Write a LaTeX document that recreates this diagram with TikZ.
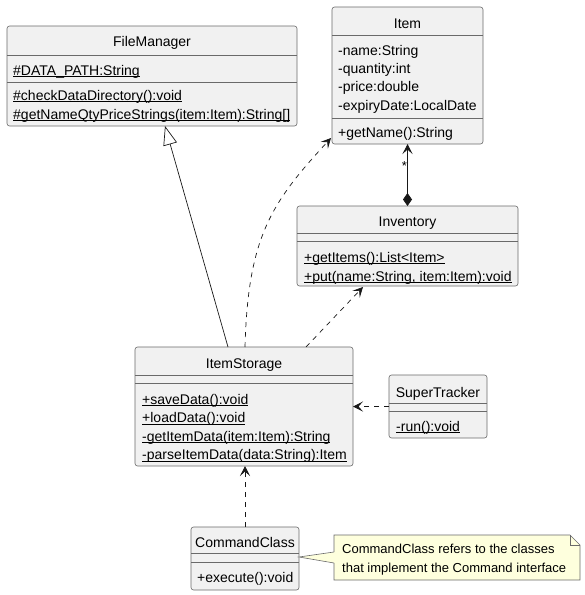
\documentclass[tikz,border=0pt]{standalone}
\usepackage{fontspec}
\setmainfont{Liberation Sans}
\usetikzlibrary{arrows.meta}
\definecolor{classbg}{HTML}{F1F1F1}
\definecolor{boxclr}{HTML}{6A6A6A}
\definecolor{lineclr}{HTML}{181818}
\definecolor{notebg}{HTML}{FEFFDD}
\tikzset{
  classbox/.style={draw=boxclr, fill=classbg, line width=0.6pt, rounded corners=2.5pt,
    inner sep=0pt, outer sep=0pt},
  divider/.style={draw=boxclr, line width=0.6pt},
  title/.style={font=\fontsize{14}{16}\selectfont, inner sep=0pt, anchor=base},
  member/.style={font=\fontsize{14}{16}\selectfont, inner sep=0pt, anchor=base west},
  notetext/.style={font=\fontsize{13}{15}\selectfont, inner sep=0pt, anchor=base west},
  deptip/.style={-{Stealth[length=10pt,width=10pt,inset=4.5pt]}},
  dep/.style={draw=lineclr, line width=0.7pt, dash pattern=on 5pt off 5pt, deptip},
  inherit/.style={draw=lineclr, line width=0.7pt, -{Triangle[open,length=19pt,width=14pt]}},
  compose/.style={draw=lineclr, line width=0.7pt,
    {Stealth[length=10pt,width=10pt,inset=4.5pt]}-{Diamond[length=13pt,width=9pt]}},
}
% static members: underline drawn just under the baseline
\newcommand{\ul}[1]{\setbox0\hbox{#1}\rlap{\rule[-2pt]{\wd0}{0.7pt}}\box0}
\begin{document}
\begin{tikzpicture}[x=1pt, y=-1pt]
  \useasboundingbox (0,0) rectangle (585,595);

  % ---------- FileManager ----------
  \node[classbox, minimum width=290pt, minimum height=100pt] (fm) at (152,76) {};
  \draw[divider] (7,55) -- (297,55);
  \draw[divider] (7,82) -- (297,82);
  \node[title] (fmT) at (152,46) {FileManager};
  \node[member] (fmA) at (13,75) {\ul{\#DATA\_PATH:String}};
  \node[member] (fmM1) at (13,100) {\ul{\#checkDataDirectory():void}};
  \node[member] (fmM2) at (13,119) {\ul{\#getNameQtyPriceStrings(item:Item):String[]}};

  % ---------- Item ----------
  \node[classbox, minimum width=151pt, minimum height=137pt] (item) at (407.5,75.5) {};
  \draw[divider] (332,35) -- (483,35);
  \draw[divider] (332,118) -- (483,118);
  \node[title] (itT) at (407.5,28) {Item};
  \node[member] (itA1) at (338,55) {-name:String};
  \node[member] (itA2) at (338,73.3) {-quantity:int};
  \node[member] (itA3) at (338,91.7) {-price:double};
  \node[member] (itA4) at (338,110) {-expiryDate:LocalDate};
  \node[member] (itM1) at (338,137) {+getName():String};

  % ---------- Inventory ----------
  \node[classbox, minimum width=221pt, minimum height=80pt] (inv) at (407.5,246) {};
  \draw[divider] (297,233) -- (518,233);
  \draw[divider] (297,241) -- (518,241);
  \node[title] (invT) at (407.5,226) {Inventory};
  \node[member] (invM1) at (304,262) {\ul{+getItems():List<Item>}};
  \node[member] (invM2) at (304,281) {\ul{+put(name:String, item:Item):void}};

  % ---------- ItemStorage ----------
  \node[classbox, minimum width=218pt, minimum height=119pt] (is) at (244,406.5) {};
  \draw[divider] (135,375) -- (353,375);
  \draw[divider] (135,383) -- (353,383);
  \node[title] (isT) at (244,368) {ItemStorage};
  \node[member] (isM1) at (142,404) {\ul{+saveData():void}};
  \node[member] (isM2) at (142,422.5) {\ul{+loadData():void}};
  \node[member] (isM3) at (142,441) {\ul{-getItemData(item:Item):String}};
  \node[member] (isM4) at (142,459.5) {\ul{-parseItemData(data:String):Item}};

  % ---------- SuperTracker ----------
  \node[classbox, minimum width=98pt, minimum height=63pt] (st) at (438,406.5) {};
  \draw[divider] (389,403) -- (487,403);
  \draw[divider] (389,411) -- (487,411);
  \node[title] (stT) at (438,397) {SuperTracker};
  \node[member] (stM1) at (396,431) {\ul{-run():void}};

  % ---------- CommandClass ----------
  \node[classbox, minimum width=108pt, minimum height=63pt] (cc) at (245,558.5) {};
  \draw[divider] (191,553) -- (299,553);
  \draw[divider] (191,562) -- (299,562);
  \node[title] (ccT) at (245,547) {CommandClass};
  \node[member] (ccM1) at (197,582) {+execute():void};

  % ---------- Note ----------
  \node[minimum width=246pt, minimum height=45pt, inner sep=0pt, outer sep=0pt] (note) at (457,557.5) {};
  \filldraw[draw=boxclr, fill=notebg, line width=0.6pt]
    (note.north west) -- ([xshift=-10pt]note.north east) -- ([yshift=-10pt]note.north east)
    -- (note.south east) -- (note.south west) -- cycle;
  \draw[boxclr, line width=0.6pt]
    ([xshift=-10pt]note.north east) -- ([xshift=-10pt,yshift=-10pt]note.north east)
    -- ([yshift=-10pt]note.north east);
  \fill[notebg] ([yshift=1.5pt]cc.east) -- ([xshift=1pt,yshift=5.5pt]note.west)
    -- ([xshift=1pt,yshift=-5.5pt]note.west) -- cycle;
  \draw[boxclr, line width=0.6pt] ([yshift=5.5pt]note.west) -- ([yshift=1.5pt]cc.east)
    -- ([yshift=-5.5pt]note.west);
  \node[notetext] (n1) at (342,553) {CommandClass refers to the classes};
  \node[notetext] (n2) at (342,572) {that implement the Command interface};

  % ---------- Relations ----------
  % ItemStorage extends FileManager
  \draw[inherit] ([xshift=-16pt]is.north) -- ([xshift=13pt]fm.south);
  % ItemStorage depends on Item
  \draw[dep] ([xshift=1pt]is.north) .. controls +(3pt,110pt) and +(-60pt,-65pt)
    .. ([xshift=-1pt,yshift=6pt]item.south west);
  % ItemStorage depends on Inventory
  \draw[dep] ([xshift=62pt]is.north) -- ([xshift=-44.5pt,yshift=-1pt]inv.south);
  % Inventory is composed of Items
  \draw[compose] (item.south) -- (inv.north);
  \node[font=\fontsize{13}{15}\selectfont, inner sep=0pt, anchor=base] (mult) at (404.5,170) {*};
  % SuperTracker uses ItemStorage
  \draw[dep] (st.west) -- (is.east);
  % CommandClass uses ItemStorage
  \draw[dep] (cc.north) -- (cc.north |- is.south);
\end{tikzpicture}
\end{document}
